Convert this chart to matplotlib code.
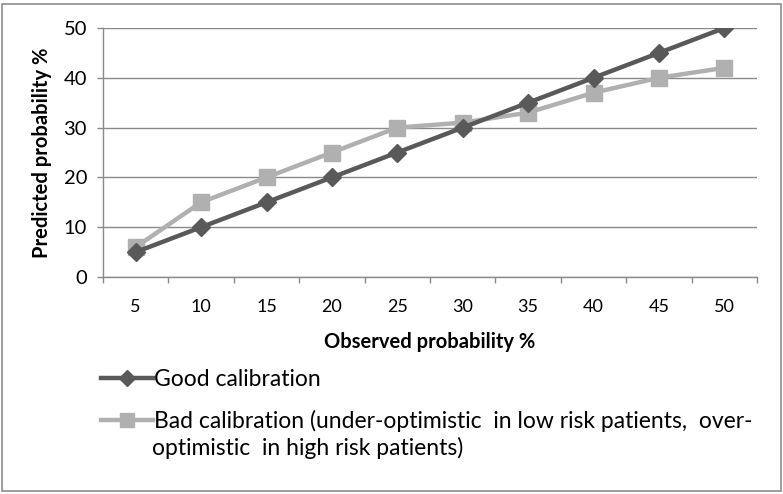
import matplotlib
matplotlib.use("Agg")
import matplotlib.pyplot as plt
from matplotlib.patches import Rectangle

categories = ["5", "10", "15", "20", "25", "30", "35", "40", "45", "50"]
good = [5, 10, 15, 20, 25, 30, 35, 40, 45, 50]
bad = [6, 15, 20, 25, 30, 31, 33, 37, 40, 42]
yticks = [0, 10, 20, 30, 40, 50]

font = ["Lato", "DejaVu Sans"]
plt.rcParams["font.family"] = font

dark = "#595959"
light = "#b0b0b0"
grid = "#8a8a8a"

fig = plt.figure(figsize=(7.83, 4.94), dpi=100)
fig.patches.append(Rectangle((2 / 783, 3 / 494), 779 / 783, 487 / 494,
                             transform=fig.transFigure, fill=False,
                             edgecolor="#8c8c8c", linewidth=1.2))

ax = fig.add_axes([103 / 783, 1 - 277 / 494, 654 / 783, 249 / 494])
x = list(range(len(categories)))
l1, = ax.plot(x, good, color=dark, linewidth=3.2, marker="D", markersize=9,
              label="Good calibration", zorder=3)
l2, = ax.plot(x, bad, color=light, linewidth=3.2, marker="s", markersize=12,
              label="Bad calibration (under-optimistic  in low risk patients,  over-",
              zorder=2)

ax.set_xlim(-0.5, len(categories) - 0.5)
ax.set_ylim(0, 50)
ax.set_yticks(yticks)
ax.set_xticks(x)
ax.set_xticklabels(categories, fontsize=13)
ax.set_xticks([i - 0.5 for i in range(len(categories) + 1)], minor=True)
ax.tick_params(axis="x", which="major", length=0, pad=16)
ax.tick_params(axis="x", which="minor", length=4.5, color=grid, width=1)
ax.tick_params(axis="y", length=4.5, color=grid, width=1, pad=7, labelsize=14.5)

ax.yaxis.grid(True, color=grid, linewidth=1)
ax.set_axisbelow(True)
for s in ["top", "right"]:
    ax.spines[s].set_visible(False)
for s in ["left", "bottom"]:
    ax.spines[s].set_color(grid)
    ax.spines[s].set_linewidth(1)

ax.set_xlabel("Observed probability %", fontweight="bold", fontsize=14.5, labelpad=12)
ax.set_ylabel("Predicted probability %", fontweight="bold", fontsize=14.5, labelpad=8)

fig.legend(handles=[l1, l2], loc="upper left",
           bbox_to_anchor=(80 / 783, 1 - 348 / 494), frameon=False,
           prop={"size": 16.5}, handlelength=2.3,
           handletextpad=0.05, labelspacing=0.9, markerscale=0.85)
fig.text(152 / 783, 1 - 448 / 494, "optimistic  in high risk patients)",
         fontsize=16.5, va="center", ha="left")

fig.savefig("out.png", dpi=100)
